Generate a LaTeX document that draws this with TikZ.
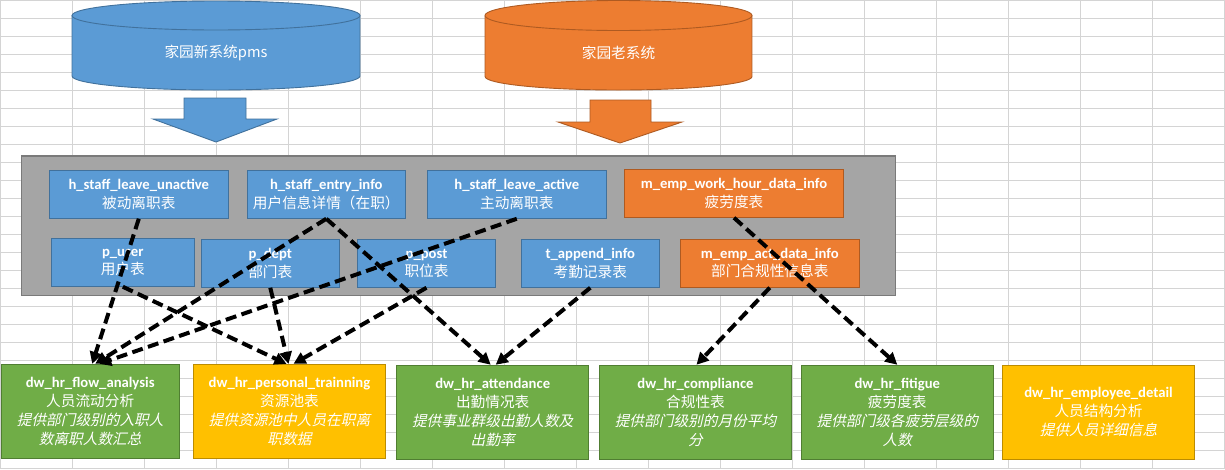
\documentclass[tikz,border=0pt]{standalone}
\usepackage{fontspec}
\setmainfont{Carlito}
\newfontfamily\cjk{Noto Sans CJK SC}
\newfontfamily\cjkit[FakeSlant=0.22]{Noto Sans CJK SC}
\usetikzlibrary{arrows.meta}
\definecolor{gridc}{HTML}{D4D4D4}
\definecolor{bfill}{HTML}{5B9BD5}
\definecolor{bline}{HTML}{41719C}
\definecolor{ofill}{HTML}{ED7D31}
\definecolor{oline}{HTML}{AE5A21}
\definecolor{gfill}{HTML}{70AD47}
\definecolor{gline}{HTML}{507E32}
\definecolor{yfill}{HTML}{FFC000}
\definecolor{yline}{HTML}{BC8C00}
\definecolor{cfill}{HTML}{A5A5A5}
\definecolor{cline}{HTML}{7A7A7A}
\tikzset{
  gridline/.style={draw=gridc, line width=1pt},
  box/.style={draw, line width=0.9pt, inner sep=0pt, align=center, text=white,
    font=\fontsize{14.67}{18.5}\selectfont},
  bluebox/.style={box, fill=bfill, draw=bline},
  orangebox/.style={box, fill=ofill, draw=oline},
  dwbox/.style={box, font=\fontsize{14.67}{19}\selectfont, minimum width=192pt, minimum height=94pt},
  greenbox/.style={dwbox, fill=gfill, draw=gline},
  yellowbox/.style={dwbox, fill=yfill, draw=yline},
  conn/.style={draw=black, line width=4pt, dash pattern=on 11pt off 5.5pt,
    -{Triangle[length=12pt,width=12pt]}},
  cyltext/.style={text=white, font=\cjk\fontsize{14.67}{18}\selectfont, inner sep=0pt}
}
\begin{document}
\begin{tikzpicture}[x=1pt,y=-1pt]
\useasboundingbox (0,0) rectangle (1225,469);
\fill[white] (0,0) rectangle (1225,469);
% grid
\foreach \i in {0,...,17} \draw[gridline] (72*\i+0.5,0) -- (72*\i+0.5,469);
\foreach \j in {0,...,26} \draw[gridline] (0,18*\j+0.5) -- (1225,18*\j+0.5);

% blue cylinder
\fill[bfill] (72,15.5) rectangle (360,76);
\fill[bfill] (216,76) ellipse (144 and 14);
\draw[bline, line width=0.9pt] (72,15.5) -- (72,76) arc (180:0:144 and 14) -- (360,15.5);
\filldraw[fill=bfill, draw=bline, line width=0.9pt] (216,15.5) ellipse (144 and 14.5);
\node[cyltext] (newsys) at (216,53) {家园新系统pms};
% orange cylinder
\fill[ofill] (485,15.5) rectangle (752,76.5);
\fill[ofill] (618.5,76.5) ellipse (133.5 and 13.5);
\draw[oline, line width=0.9pt] (485,15.5) -- (485,76.5) arc (180:0:133.5 and 13.5) -- (752,15.5);
\filldraw[fill=ofill, draw=oline, line width=0.9pt] (618.5,15.5) ellipse (133.5 and 15);
\node[cyltext] (oldsys) at (618.5,53) {家园老系统};

% block arrows
\filldraw[fill=bfill, draw=bline, line width=0.9pt]
  (184,98) -- (246,98) -- (246,119) -- (277,119) -- (216,142) -- (153,119) -- (184,119) -- cycle;
\filldraw[fill=ofill, draw=oline, line width=0.9pt]
  (590,100) -- (651,100) -- (651,122) -- (682,122) -- (620,143) -- (558,122) -- (590,122) -- cycle;

% container
\node[draw=cline, fill=cfill, line width=1.2pt, inner sep=0pt, minimum width=874.4pt, minimum height=139.3pt] (ods) at (458.5,225.6) {};

% source tables
\node[bluebox, minimum width=179pt, minimum height=48pt] (hsu) at (138.8,194.3)
  {{\bfseries h\_staff\_leave\_unactive}\\{\cjk 被动离职表}};
\node[bluebox, minimum width=158pt, minimum height=48pt] (hse) at (326.3,194.3)
  {{\bfseries h\_staff\_entry\_info}\\{\cjk 用户信息详情（在职）}};
\node[bluebox, minimum width=179pt, minimum height=48pt] (hsa) at (516.8,194.3)
  {{\bfseries h\_staff\_leave\_active}\\{\cjk 主动离职表}};
\node[orangebox, minimum width=219.4pt, minimum height=48pt] (mwh) at (734,193.3)
  {{\bfseries m\_emp\_work\_hour\_data\_info}\\{\cjk 疲劳度表}};
\node[bluebox, minimum width=143pt, minimum height=48pt] (pu) at (122.8,262.3)
  {{\bfseries p\_user}\\{\cjk 用户表}};
\node[bluebox, minimum width=138pt, minimum height=48pt] (pd) at (270.3,263.3)
  {{\bfseries p\_dept}\\{\cjk 部门表}};
\node[bluebox, minimum width=138.4pt, minimum height=48pt] (pp) at (426.5,263.3)
  {{\bfseries p\_post}\\{\cjk 职位表}};
\node[bluebox, minimum width=138pt, minimum height=48pt] (ta) at (590.3,263.3)
  {{\bfseries t\_append\_info}\\{\cjk 考勤记录表}};
\node[orangebox, minimum width=179pt, minimum height=48pt] (ma) at (769.8,263.2)
  {{\bfseries m\_emp\_act\_data\_info}\\{\cjk 部门合规性信息表}};

% dw tables
\node[greenbox, minimum width=178.3pt] (fa) at (90.2,411.3)
  {{\bfseries dw\_hr\_flow\_analysis}\\{\cjk 人员流动分析}\\{\cjkit 提供部门级别的入职人}\\{\cjkit 数离职人数汇总}};
\node[yellowbox, minimum width=191.6pt] (pt) at (289.5,411.3)
  {{\bfseries dw\_hr\_personal\_trainning}\\{\cjk 资源池表}\\{\cjkit 提供资源池中人员在职离}\\{\cjkit 职数据}};
\node[greenbox] (at) at (492.7,412.2)
  {{\bfseries dw\_hr\_attendance}\\{\cjk 出勤情况表}\\{\cjkit 提供事业群级出勤人数及}\\{\cjkit 出勤率}};
\node[greenbox, minimum width=192.4pt] (co) at (695.5,412.2)
  {{\bfseries dw\_hr\_compliance}\\{\cjk 合规性表}\\{\cjkit 提供部门级别的月份平均}\\{\cjkit 分}};
\node[greenbox] (fi) at (897.3,412.2)
  {{\bfseries dw\_hr\_fitigue}\\{\cjk 疲劳度表}\\{\cjkit 提供部门级各疲劳层级的}\\{\cjkit 人数}};
\node[yellowbox, minimum width=192.4pt] (ed) at (1098.5,412.2)
  {{\bfseries dw\_hr\_employee\_detail}\\{\cjk 人员结构分析}\\{\cjkit 提供人员详细信息}};

% connectors
\draw[conn] (hsu.south) -- ([xshift=2pt]fa.north);
\draw[conn] (hse.south) -- ([xshift=5pt]fa.north);
\draw[conn] (hsa.south) -- ([xshift=9pt]fa.north);
\draw[conn] (hse.south) -- ([xshift=-2pt]at.north);
\draw[conn] (ta.south) -- ([xshift=3pt]at.north);
\draw[conn] (pu.south) -- ([xshift=-3pt]pt.north);
\draw[conn] (pd.south) -- ([xshift=-1pt]pt.north);
\draw[conn] (pp.south) -- ([xshift=4pt]pt.north);
\draw[conn] (ma.south) -- ([xshift=1pt]co.north);
\draw[conn] (mwh.south) -- (fi.north);
\end{tikzpicture}
\end{document}
